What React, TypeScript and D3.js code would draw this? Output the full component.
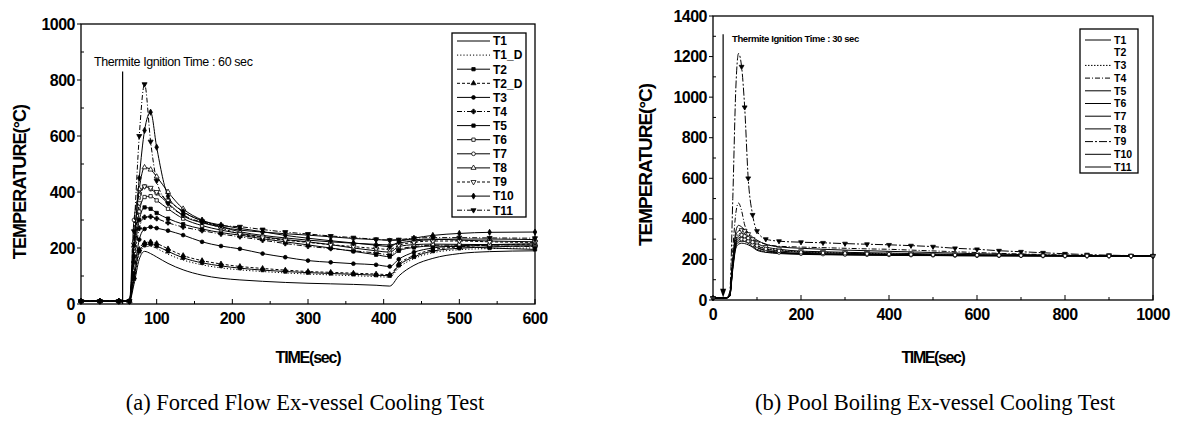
import React from "react";
import * as d3 from "d3";

// (a) forced flow test, time in sec
const forcedTime = [0, 25, 50, 64, 70, 77, 84, 92, 100, 115, 135, 160, 185, 210, 240, 270, 300, 330, 360, 390, 408, 420, 440, 465, 500, 540, 600];
const forcedT1 = [10, 10, 10, 10, 70, 160, 188, 180, 168, 145, 122, 103, 92, 86, 81, 77, 74, 72, 70, 67, 64, 100, 138, 163, 180, 187, 190];
const forcedT1D = [10, 10, 10, 10, 85, 180, 204, 206, 198, 178, 157, 140, 129, 122, 116, 111, 107, 104, 101, 98, 96, 130, 162, 183, 194, 198, 200];
const forcedT2 = [10, 10, 10, 10, 90, 188, 210, 214, 207, 188, 165, 147, 136, 128, 121, 116, 112, 109, 106, 103, 101, 138, 168, 189, 199, 204, 207];
const forcedT2D = [10, 10, 10, 10, 95, 195, 218, 222, 216, 197, 173, 155, 143, 134, 127, 121, 116, 113, 110, 107, 105, 143, 173, 194, 204, 210, 214];
const forcedT3 = [10, 10, 10, 10, 110, 230, 268, 275, 271, 262, 246, 222, 207, 197, 180, 167, 155, 149, 144, 140, 134, 160, 185, 200, 208, 212, 215];
const forcedT4 = [10, 10, 10, 10, 150, 270, 310, 312, 305, 290, 275, 262, 250, 240, 228, 216, 206, 198, 190, 182, 176, 195, 205, 210, 210, 208, 205];
const forcedT5 = [10, 10, 10, 10, 170, 300, 345, 340, 325, 305, 285, 268, 255, 246, 233, 222, 211, 200, 188, 176, 169, 190, 202, 207, 205, 200, 195];
const forcedT6 = [10, 10, 10, 10, 190, 330, 382, 385, 370, 340, 305, 280, 264, 252, 240, 230, 222, 212, 200, 190, 185, 205, 212, 214, 213, 212, 210];
const forcedT7 = [10, 10, 10, 10, 300, 390, 420, 410, 395, 360, 315, 290, 275, 264, 257, 251, 246, 240, 234, 230, 228, 228, 230, 232, 228, 225, 222];
const forcedT8 = [10, 10, 10, 10, 220, 410, 488, 480, 455, 400, 340, 300, 276, 258, 245, 236, 228, 222, 217, 213, 211, 218, 225, 230, 232, 232, 230];
const forcedT9 = [10, 10, 10, 10, 200, 360, 420, 415, 400, 370, 330, 296, 272, 250, 238, 228, 220, 212, 205, 198, 195, 210, 220, 225, 225, 222, 220];
const forcedT10 = [10, 10, 10, 10, 210, 450, 620, 685, 560, 385, 330, 298, 282, 270, 258, 245, 235, 226, 218, 210, 205, 222, 235, 245, 252, 256, 257];
const forcedT11 = [10, 10, 10, 10, 260, 600, 785, 580, 440, 360, 318, 292, 280, 276, 266, 257, 250, 243, 237, 231, 228, 230, 235, 237, 237, 236, 235];
const forcedLabels = ["T1", "T1_D", "T2", "T2_D", "T3", "T4", "T5", "T6", "T7", "T8", "T9", "T10", "T11"];
const forcedIgnition = 55;
const forcedIgnitionTop = 830;

// (b) pool boiling test
const poolTime = [0, 30, 38, 45, 52, 58, 65, 72, 80, 90, 100, 120, 150, 200, 250, 300, 350, 400, 450, 500, 550, 600, 650, 700, 750, 800, 850, 900, 950, 1000];
const poolT1 = [10, 10, 25, 200, 340, 368, 360, 345, 330, 310, 295, 275, 262, 255, 250, 246, 243, 240, 237, 234, 231, 228, 226, 224, 222, 220, 219, 218, 218, 217];
const poolT3 = [10, 10, 22, 180, 300, 325, 330, 325, 310, 290, 270, 255, 245, 238, 234, 231, 229, 227, 225, 224, 222, 221, 220, 219, 219, 218, 218, 217, 217, 217];
const poolT4 = [10, 10, 30, 250, 430, 478, 440, 370, 330, 300, 290, 275, 265, 261, 258, 255, 252, 250, 246, 242, 238, 234, 230, 227, 224, 222, 220, 219, 218, 218];
const poolT5 = [10, 10, 25, 190, 320, 340, 345, 340, 325, 300, 280, 262, 250, 241, 238, 235, 233, 231, 229, 227, 225, 223, 222, 221, 220, 219, 218, 218, 217, 217];
const poolT6 = [10, 10, 20, 170, 280, 305, 310, 305, 295, 275, 260, 245, 236, 230, 228, 226, 225, 224, 223, 222, 221, 220, 219, 219, 218, 218, 217, 217, 217, 217];
const poolT7 = [10, 10, 18, 160, 265, 285, 290, 288, 280, 265, 250, 238, 232, 227, 225, 223, 222, 221, 220, 220, 219, 219, 218, 218, 218, 217, 217, 217, 217, 217];
const poolT8 = [10, 10, 18, 150, 255, 275, 280, 278, 272, 260, 245, 235, 229, 225, 223, 222, 221, 220, 219, 219, 218, 218, 218, 217, 217, 217, 217, 217, 217, 217];
const poolT9 = [10, 10, 40, 500, 1050, 1215, 1150, 950, 600, 420, 340, 300, 290, 285, 282, 278, 275, 272, 268, 263, 255, 250, 243, 238, 233, 228, 224, 221, 219, 218];
const poolT10 = [10, 10, 20, 165, 270, 295, 300, 298, 290, 272, 258, 244, 234, 228, 226, 224, 223, 222, 221, 220, 219, 218, 218, 218, 217, 217, 217, 217, 217, 217];
const poolT11 = [10, 10, 22, 175, 290, 315, 320, 315, 305, 285, 268, 252, 242, 235, 232, 230, 228, 226, 224, 223, 222, 221, 220, 219, 219, 218, 218, 217, 217, 217];
const poolLabels = ["T1", "T2", "T3", "T4", "T5", "T6", "T7", "T8", "T9", "T10", "T11"];
const poolIgnition = 23;
const poolIgnitionTop = 1310;

const forcedSeries = [
  { label: forcedLabels[0], values: forcedT1, style: {} },
  { label: forcedLabels[1], values: forcedT1D, style: { dash: "1.2 2" } },
  { label: forcedLabels[2], values: forcedT2, style: { marker: "square" } },
  { label: forcedLabels[3], values: forcedT2D, style: { dash: "3 2", marker: "triangle" } },
  { label: forcedLabels[4], values: forcedT3, style: { marker: "circle" } },
  { label: forcedLabels[5], values: forcedT4, style: { dash: "5 2 1 2", marker: "cross" } },
  { label: forcedLabels[6], values: forcedT5, style: { marker: "square" } },
  { label: forcedLabels[7], values: forcedT6, style: { marker: "square", open: true } },
  { label: forcedLabels[8], values: forcedT7, style: { marker: "circle", open: true } },
  { label: forcedLabels[9], values: forcedT8, style: { marker: "triangle", open: true } },
  { label: forcedLabels[10], values: forcedT9, style: { dash: "3 2", marker: "down", open: true } },
  { label: forcedLabels[11], values: forcedT10, style: { marker: "diamond" } },
  { label: forcedLabels[12], values: forcedT11, style: { dash: "5 2 1 2", marker: "down" } },
];

const poolSeries = [
  { label: poolLabels[0], values: poolT1, style: {} },
  { label: poolLabels[1], values: null, style: {} },
  { label: poolLabels[2], values: poolT3, style: { dash: "1.5 1.5" } },
  { label: poolLabels[3], values: poolT4, style: { dash: "5 2 1 2" } },
  { label: poolLabels[4], values: poolT5, style: { marker: "down", open: true } },
  { label: poolLabels[5], values: poolT6, style: {} },
  { label: poolLabels[6], values: poolT7, style: {} },
  { label: poolLabels[7], values: poolT8, style: {} },
  { label: poolLabels[8], values: poolT9, style: { dash: "8 2 2 2", marker: "down" } },
  { label: poolLabels[9], values: poolT10, style: { marker: "circle", open: true } },
  { label: poolLabels[10], values: poolT11, style: { marker: "circle", open: true } },
];

const symbolTypes: any = {
  square: d3.symbolSquare,
  circle: d3.symbolCircle,
  triangle: d3.symbolTriangle,
  down: d3.symbolTriangle,
  diamond: d3.symbolDiamond,
  cross: d3.symbolCross,
};

function Marker({ kind, open, x, y, size }: any) {
  const d = d3.symbol(symbolTypes[kind], size)() || "";
  const rot = kind === "down" ? " rotate(180)" : "";
  return (
    <path
      d={d}
      transform={`translate(${x},${y})${rot}`}
      fill={open ? "#fff" : "#000"}
      stroke="#000"
      strokeWidth={0.8}
    />
  );
}

const sans = "'Liberation Sans', Arial, sans-serif";
const serif = "'Liberation Serif', 'Times New Roman', serif";

function Chart(props: any) {
  const { left, right, top, bottom, xMax, yMax, xStep, yStep, times, series, legend, markerSize, markerSkip } = props;
  const x = d3.scaleLinear().domain([0, xMax]).range([left, right]);
  const y = d3.scaleLinear().domain([0, yMax]).range([bottom, top]);
  const line = d3
    .line<number>()
    .x((_, i) => x(times[i]))
    .y((v) => y(v))
    .curve(d3.curveMonotoneX);

  const xMajor = d3.range(0, xMax + 1, xStep);
  const xMinor = d3.range(xStep / 2, xMax, xStep);
  const yMajor = d3.range(0, yMax + 1, yStep);
  const yMinor = d3.range(yStep / 2, yMax, yStep);

  // skip markers in the steep rise for the pool chart
  const showMarker = (t: number) => !markerSkip || t < markerSkip[0] || t > markerSkip[1];

  return (
    <g>
      {series.map((s: any) =>
        s.values ? (
          <g key={s.label}>
            <path d={line(s.values) || ""} fill="none" stroke="#000" strokeWidth={1} strokeDasharray={s.style.dash} />
            {s.style.marker &&
              s.values.map((v: number, i: number) =>
                showMarker(times[i]) ? (
                  <Marker key={i} kind={s.style.marker} open={s.style.open} x={x(times[i])} y={y(v)} size={markerSize} />
                ) : null
              )}
          </g>
        ) : null
      )}

      {/* frame */}
      <rect x={left} y={top} width={right - left} height={bottom - top} fill="none" stroke="#000" strokeWidth={1.3} />

      {/* x ticks */}
      {xMajor.map((t: number) => (
        <g key={"xt" + t}>
          <line x1={x(t)} x2={x(t)} y1={bottom} y2={bottom - 5} stroke="#000" />
          <text x={x(t)} y={bottom + 20} textAnchor="middle" fontFamily={sans} fontWeight="bold" fontSize={16} letterSpacing={-0.5}>
            {t}
          </text>
        </g>
      ))}
      {xMinor.map((t: number) => (
        <line key={"xm" + t} x1={x(t)} x2={x(t)} y1={bottom} y2={bottom - 3} stroke="#000" />
      ))}
      {/* y ticks */}
      {yMajor.map((t: number) => (
        <g key={"yt" + t}>
          <line x1={left - 4} x2={left} y1={y(t)} y2={y(t)} stroke="#000" />
          <text x={left - 6} y={y(t) + 5.5} textAnchor="end" fontFamily={sans} fontWeight="bold" fontSize={16} letterSpacing={-0.5}>
            {t}
          </text>
        </g>
      ))}
      {yMinor.map((t: number) => (
        <line key={"ym" + t} x1={left} x2={left + 3} y1={y(t)} y2={y(t)} stroke="#000" />
      ))}

      {/* legend */}
      <rect x={legend.x} y={legend.y} width={legend.w} height={legend.h} fill="#fff" stroke="#000" strokeWidth={1.3} />
      {series.map((s: any, i: number) => {
        const ly = legend.y + legend.first + i * legend.step;
        const lx0 = legend.x + 5;
        const lx1 = legend.x + 5 + legend.lineLen;
        return (
          <g key={"lg" + s.label}>
            {s.values && <line x1={lx0} x2={lx1} y1={ly} y2={ly} stroke="#000" strokeWidth={1} strokeDasharray={s.style.dash} />}
            {s.values && legend.markers && s.style.marker && (
              <Marker kind={s.style.marker} open={s.style.open} x={(lx0 + lx1) / 2} y={ly} size={markerSize} />
            )}
            <text x={lx1 + 3} y={ly + legend.font * 0.36} fontFamily={sans} fontWeight="bold" fontSize={legend.font}>
              {s.label}
            </text>
          </g>
        );
      })}
    </g>
  );
}

export default function App() {
  const xa = d3.scaleLinear().domain([0, 600]).range([81, 535]);
  const ya = d3.scaleLinear().domain([0, 1000]).range([304, 24]);
  const xb = d3.scaleLinear().domain([0, 1000]).range([713, 1153]);
  const yb = d3.scaleLinear().domain([0, 1400]).range([300, 16]);

  return (
    <svg width={1179} height={428} style={{ position: "absolute", left: 0, top: 0, background: "#fff" }}>
      <rect width={1179} height={428} fill="#fff" />

      {/* (a) */}
      <line x1={xa(forcedIgnition)} x2={xa(forcedIgnition)} y1={ya(0)} y2={ya(forcedIgnitionTop)} stroke="#000" strokeWidth={1.2} />
      <text x={94} y={66} fontFamily={sans} fontSize={12.5} letterSpacing={-0.4}>
        Thermite Ignition Time : 60 sec
      </text>
      <Chart
        left={81}
        right={535}
        top={24}
        bottom={304}
        xMax={600}
        yMax={1000}
        xStep={100}
        yStep={200}
        times={forcedTime}
        series={forcedSeries}
        markerSize={11}
        legend={{ x: 452, y: 33, w: 74, h: 184, first: 8, step: 14.1, lineLen: 33, font: 12, markers: true }}
      />
      <text transform="translate(26,182) rotate(-90)" textAnchor="middle" fontFamily={sans} fontWeight="bold" fontSize={18} letterSpacing={-0.9}>
        TEMPERATURE(°C)
      </text>
      <text x={308} y={363} textAnchor="middle" fontFamily={sans} fontWeight="bold" fontSize={16} letterSpacing={-1.2}>
        TIME(sec)
      </text>

      {/* (b) */}
      <line x1={xb(poolIgnition)} x2={xb(poolIgnition)} y1={yb(poolIgnitionTop)} y2={yb(40)} stroke="#000" strokeWidth={1.2} />
      <path
        d={`M${xb(poolIgnition) - 3},${yb(55)} L${xb(poolIgnition) + 3},${yb(55)} L${xb(poolIgnition)},${yb(12)} Z`}
        fill="#000"
      />
      <text x={732} y={42} fontFamily={sans} fontWeight="bold" fontSize={9.5} letterSpacing={-0.4}>
        Thermite Ignition Time : 30 sec
      </text>
      <Chart
        left={713}
        right={1153}
        top={16}
        bottom={300}
        xMax={1000}
        yMax={1400}
        xStep={200}
        yStep={200}
        times={poolTime}
        series={poolSeries}
        markerSize={10}
        markerSkip={[20, 60]}
        legend={{ x: 1080, y: 29, w: 58, h: 144, first: 11, step: 12.7, lineLen: 26, font: 10.5, markers: false }}
      />
      <text transform="translate(652,165) rotate(-90)" textAnchor="middle" fontFamily={sans} fontWeight="bold" fontSize={19} letterSpacing={-1}>
        TEMPERATURE(°C)
      </text>
      <text x={933} y={363} textAnchor="middle" fontFamily={sans} fontWeight="bold" fontSize={16} letterSpacing={-1.4}>
        TIME(sec)
      </text>

      {/* captions */}
      <text x={305} y={410} textAnchor="middle" fontFamily={serif} fontSize={22.5}>
        (a) Forced Flow Ex-vessel Cooling Test
      </text>
      <text x={935} y={410} textAnchor="middle" fontFamily={serif} fontSize={22.5}>
        (b) Pool Boiling Ex-vessel Cooling Test
      </text>
    </svg>
  );
}
